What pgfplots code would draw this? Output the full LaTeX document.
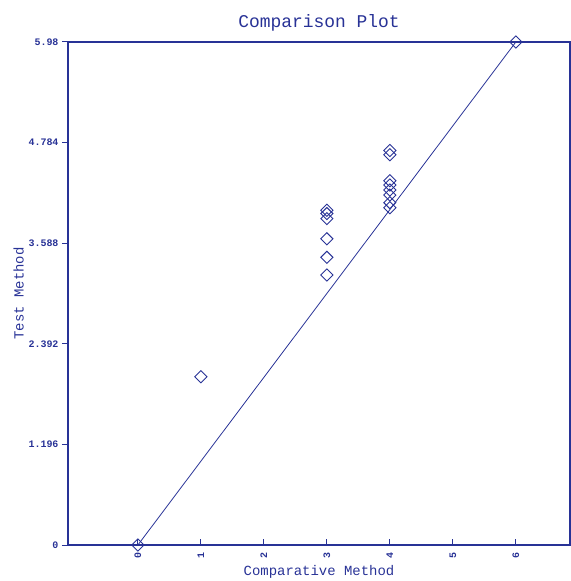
\documentclass[border=0pt]{standalone}
\usepackage{pgfplots}
\pgfplotsset{compat=1.18}
\usepackage{fontspec}
\setmainfont{Liberation Mono}
\usetikzlibrary{calc}
\definecolor{ink}{RGB}{40,50,150}
\begin{document}
\begin{tikzpicture}
\begin{axis}[
  name=ax,
  scale only axis,
  width=502bp, height=503bp,
  xmin=-1.11, xmax=6.86,
  ymin=0, ymax=5.98,
  axis line style={ink, line width=1.3pt},
  every tick/.style={ink, line width=1pt},
  xtick={0,1,2,3,4,5,6},
  xticklabels={0,1,2,3,4,5,6},
  ytick={0,1.196,2.392,3.588,4.784,5.98},
  yticklabels={0,1.196,2.392,3.588,4.784,5.98},
  xtick pos=bottom, ytick pos=left,
  xtick align=inside, ytick align=outside,
  major tick length=6bp,
  tick label style={font=\fontsize{10}{12}\selectfont\bfseries, text=ink},
  xticklabel style={rotate=90, anchor=east, xshift=-4bp},
  title={Comparison Plot},
  title style={font=\fontsize{18}{20}\selectfont, text=ink, yshift=1bp},
  xlabel={Comparative Method},
  ylabel={Test Method},
  label style={font=\fontsize{14}{16}\selectfont, text=ink},
  xlabel style={yshift=0bp},
  ylabel style={yshift=-2bp},
  clip=false,
]
\addplot[ink, line width=0.8pt, no marks] coordinates {(0,0) (6,5.98)};
\addplot[only marks, mark=square, mark size=4.3bp, mark options={rotate=45}, ink, line width=0.9pt] coordinates {
(0,0)
(1,2.00)
(3,3.98) (3,3.94) (3,3.88) (3,3.64) (3,3.42) (3,3.21)
(4,4.69) (4,4.64) (4,4.33) (4,4.28) (4,4.22) (4,4.16) (4,4.07) (4,4.01)
(6,5.98)
};
\end{axis}
\pgfresetboundingbox
\path ($(ax.south west)+(-68bp,-36bp)$) rectangle ($(ax.north east)+(1bp,42bp)$);
\end{tikzpicture}
\end{document}
